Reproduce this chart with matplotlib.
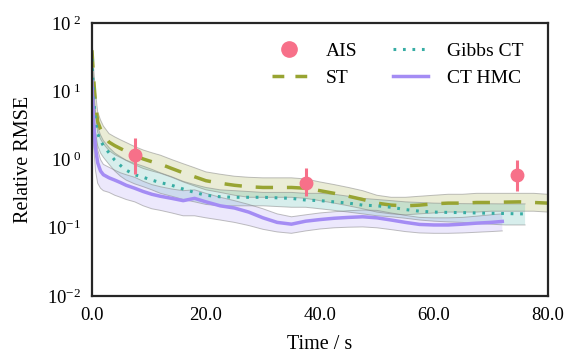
import matplotlib
matplotlib.use("Agg")
import matplotlib.pyplot as plt
import numpy as np
from matplotlib.ticker import FormatStrFormatter, FixedLocator, FuncFormatter
from matplotlib.lines import Line2D

plt.rcParams['font.family'] = 'serif'
plt.rcParams['font.serif'] = ['Liberation Serif', 'DejaVu Serif']
plt.rcParams['mathtext.fontset'] = 'custom'
plt.rcParams['mathtext.rm'] = 'Liberation Serif'
plt.rcParams['mathtext.it'] = 'Liberation Serif:italic'

# Colores (paleta husl de 4)
c_ais = (0.968, 0.441, 0.536)
c_st = (0.596, 0.643, 0.196)
c_gibbs = (0.214, 0.678, 0.643)
c_hmc = (0.643, 0.549, 0.957)

# Datos
t_grid = [0, 0.3, 0.6, 1, 1.5, 2, 3, 4, 5, 6, 7.5, 9, 10.5, 12, 14, 16, 18, 20,
          22.5, 25, 27.5, 30, 32.5, 35, 37.5, 40, 42.5, 45, 47.5, 50, 52.5, 55,
          57.5, 60, 62.5, 65, 67.5, 70, 72.5, 75, 77.5, 80]

st_mean = [40, 15, 7, 3.6, 2.8, 2.3, 1.8, 1.6, 1.45, 1.32, 1.15, 1.02, 0.93, 0.86,
           0.74, 0.64, 0.56, 0.49, 0.45, 0.42, 0.40, 0.39, 0.39, 0.39, 0.38, 0.35,
           0.32, 0.29, 0.26, 0.23, 0.215, 0.21, 0.215, 0.225, 0.23, 0.23, 0.235,
           0.235, 0.238, 0.24, 0.235, 0.23]
st_hi = [60, 22, 10, 5.0, 3.8, 3.1, 2.4, 2.15, 1.95, 1.78, 1.55, 1.38, 1.26, 1.16,
         1.0, 0.87, 0.76, 0.66, 0.61, 0.57, 0.55, 0.54, 0.54, 0.54, 0.52, 0.47,
         0.43, 0.39, 0.35, 0.30, 0.28, 0.28, 0.29, 0.30, 0.31, 0.31, 0.32, 0.32,
         0.32, 0.32, 0.32, 0.31]
st_lo = [25, 9, 4.5, 2.5, 2.0, 1.7, 1.35, 1.18, 1.07, 0.97, 0.84, 0.74, 0.68, 0.63,
         0.55, 0.47, 0.41, 0.36, 0.33, 0.30, 0.28, 0.28, 0.28, 0.28, 0.27, 0.25,
         0.23, 0.21, 0.19, 0.17, 0.16, 0.155, 0.16, 0.165, 0.17, 0.17, 0.17, 0.175,
         0.175, 0.175, 0.175, 0.17]

t_gibbs = t_grid[:40] + [76]
gibbs_mean = [30, 8, 3.8, 2.4, 1.9, 1.6, 1.25, 0.98, 0.82, 0.7, 0.6, 0.55, 0.5,
              0.46, 0.42, 0.37, 0.33, 0.30, 0.285, 0.28, 0.28, 0.28, 0.275, 0.27,
              0.255, 0.25, 0.24, 0.23, 0.215, 0.21, 0.2, 0.185, 0.175, 0.17, 0.168,
              0.167, 0.165, 0.163, 0.162, 0.16, 0.16]
gibbs_hi = [45, 12, 5.2, 3.0, 2.3, 1.9, 1.5, 1.25, 1.1, 0.98, 0.88, 0.8, 0.72,
            0.64, 0.56, 0.48, 0.43, 0.39, 0.36, 0.35, 0.34, 0.33, 0.33, 0.33, 0.32,
            0.32, 0.31, 0.29, 0.27, 0.26, 0.25, 0.24, 0.235, 0.23, 0.228, 0.226,
            0.225, 0.225, 0.224, 0.224, 0.224]
gibbs_lo = [18, 5, 2.6, 1.6, 1.25, 1.08, 0.85, 0.68, 0.57, 0.5, 0.44, 0.4, 0.36,
            0.32, 0.29, 0.26, 0.24, 0.22, 0.21, 0.21, 0.21, 0.21, 0.205, 0.2, 0.2,
            0.19, 0.18, 0.17, 0.16, 0.15, 0.145, 0.138, 0.13, 0.125, 0.122, 0.12,
            0.115, 0.113, 0.11, 0.11, 0.11]

t_hmc = t_grid[:38] + [72]
hmc_mean = [14, 3.5, 1.5, 0.9, 0.68, 0.6, 0.54, 0.5, 0.46, 0.42, 0.38, 0.34, 0.31,
            0.29, 0.27, 0.25, 0.27, 0.24, 0.21, 0.195, 0.17, 0.14, 0.12, 0.113,
            0.125, 0.132, 0.138, 0.142, 0.145, 0.14, 0.13, 0.12, 0.112, 0.11, 0.11,
            0.113, 0.117, 0.12, 0.124]
hmc_hi = [20, 5.5, 2.4, 1.4, 1.0, 0.85, 0.77, 0.7, 0.64, 0.6, 0.55, 0.48, 0.43,
          0.4, 0.37, 0.35, 0.36, 0.32, 0.28, 0.25, 0.22, 0.19, 0.16, 0.145, 0.155,
          0.165, 0.172, 0.178, 0.182, 0.18, 0.165, 0.152, 0.142, 0.14, 0.14, 0.142,
          0.148, 0.155, 0.16]
hmc_lo = [6, 1.6, 0.7, 0.45, 0.38, 0.35, 0.33, 0.3, 0.28, 0.26, 0.24, 0.21, 0.19,
          0.18, 0.165, 0.15, 0.15, 0.14, 0.13, 0.12, 0.108, 0.095, 0.087, 0.083,
          0.09, 0.096, 0.1, 0.102, 0.103, 0.1, 0.094, 0.088, 0.084, 0.083, 0.083,
          0.084, 0.086, 0.088, 0.09]

ais_t = [7.5, 37.5, 74.5]
ais_val = [1.15, 0.45, 0.59]
ais_lo = [0.62, 0.29, 0.35]
ais_hi = [2.1, 0.74, 0.98]

y_ticks = [1e-2, 1e-1, 1e0, 1e1, 1e2]
x_ticks = [0, 20, 40, 60, 80]


def exp_fmt(v, pos):
    e = int(round(np.log10(v)))
    if e >= 0:
        return r'$10^{\ %d}$' % e
    return r'$10^{%d}$' % e


fig = plt.figure(figsize=(5.66, 3.56), dpi=100)
ax = fig.add_axes([0.1625, 0.1685, 0.8055, 0.7665])

# Bandas
for t, lo, hi, c in [(t_grid, st_lo, st_hi, c_st),
                     (t_gibbs, gibbs_lo, gibbs_hi, c_gibbs),
                     (t_hmc, hmc_lo, hmc_hi, c_hmc)]:
    ax.fill_between(t, lo, hi, facecolor=c, alpha=0.2, edgecolor='none')
    ax.plot(t, lo, color='gray', lw=0.7, alpha=0.5)
    ax.plot(t, hi, color='gray', lw=0.7, alpha=0.5)

# AIS con barras de error
err = [np.array(ais_val) - np.array(ais_lo), np.array(ais_hi) - np.array(ais_val)]
ax.errorbar(ais_t, ais_val, yerr=err, fmt='o', color=c_ais, ms=9, elinewidth=2.2,
            capsize=0, zorder=5)

ax.plot(t_grid, st_mean, color=c_st, lw=2.5, dashes=(5, 4))
ax.plot(t_gibbs, gibbs_mean, color=c_gibbs, lw=2.2, dashes=(0.9, 2.2))
ax.plot(t_hmc, hmc_mean, color=c_hmc, lw=2.5)

ax.set_yscale('log')
ax.set_xlim(0, 80)
ax.set_ylim(1e-2, 1e2)
ax.set_xticks(x_ticks)
ax.xaxis.set_major_formatter(FormatStrFormatter('%.1f'))
ax.yaxis.set_major_locator(FixedLocator(y_ticks))
ax.yaxis.set_major_formatter(FuncFormatter(exp_fmt))
ax.yaxis.set_minor_locator(plt.NullLocator())
ax.tick_params(length=0, labelsize=13.5, pad=8)
for s in ax.spines.values():
    s.set_linewidth(1.6)
    s.set_color('#262626')

ax.set_xlabel('Time / s', fontsize=14.5, labelpad=8)
ax.set_ylabel('Relative RMSE', fontsize=14.5, labelpad=10)

handles = [
    Line2D([], [], marker='o', ms=11, ls='none', color=c_ais),
    Line2D([], [], color=c_st, lw=2.5, dashes=(3.4, 3.2)),
    Line2D([], [], color=c_gibbs, lw=2.2, dashes=(0.9, 2.2)),
    Line2D([], [], color=c_hmc, lw=2.5),
]
labels = ['AIS', 'ST', 'Gibbs CT', 'CT HMC']
ax.legend(handles, labels, ncol=2, frameon=False, loc='upper right', fontsize=14,
          handlelength=1.8, columnspacing=1.8, handletextpad=1.0,
          bbox_to_anchor=(0.985, 0.995))

fig.savefig('out.png', dpi=100)
